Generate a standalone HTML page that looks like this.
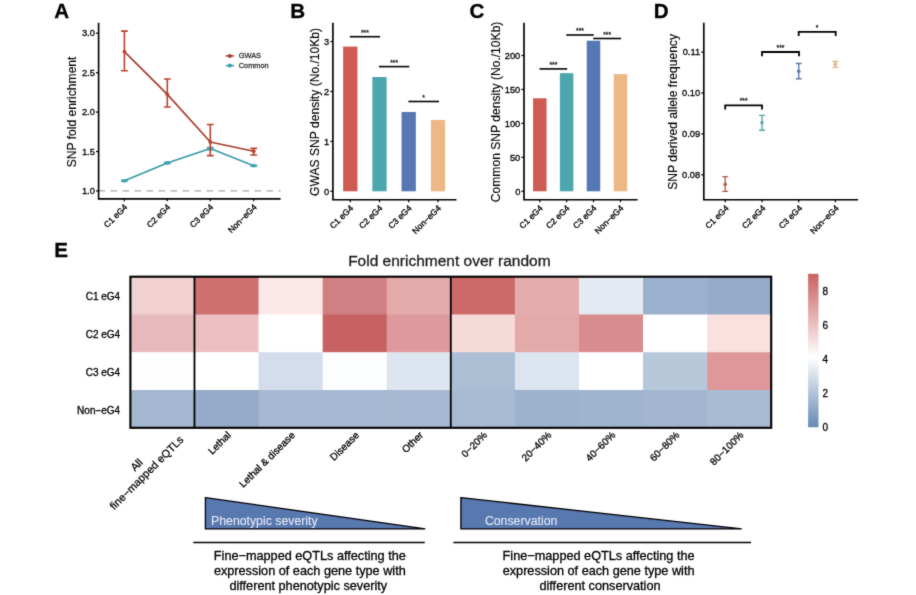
<!DOCTYPE html>
<html lang="en">
<head>
<meta charset="utf-8">
<title>SNP enrichment figure</title>
<style>
html,body{margin:0;padding:0;background:#fff;}
body{width:916px;height:595px;overflow:hidden;}
svg{display:block;font-family:'Liberation Sans', sans-serif;}
</style>
</head>
<body>
<svg width="916" height="595" viewBox="0 0 916 595">
<defs><filter id="soft" filterUnits="userSpaceOnUse" x="0" y="0" width="916" height="595" color-interpolation-filters="sRGB"><feConvolveMatrix order="3" kernelMatrix="1 3 1 3 24 3 1 3 1" edgeMode="duplicate" preserveAlpha="true"/></filter></defs>
<g id="fig" filter="url(#soft)">
<rect x="-5" y="-5" width="926" height="605" fill="#ffffff"/>
<text x="54.20" y="18.00" font-size="20.6" text-anchor="start" font-weight="bold" fill="#000" stroke="#000" stroke-width="0.3">A</text>
<text x="290.30" y="18.00" font-size="20.6" text-anchor="start" font-weight="bold" fill="#000" stroke="#000" stroke-width="0.3">B</text>
<text x="469.60" y="18.00" font-size="20.6" text-anchor="start" font-weight="bold" fill="#000" stroke="#000" stroke-width="0.3">C</text>
<text x="653.80" y="18.00" font-size="20.6" text-anchor="start" font-weight="bold" fill="#000" stroke="#000" stroke-width="0.3">D</text>
<text x="54.20" y="257.00" font-size="20.6" text-anchor="start" font-weight="bold" fill="#000" stroke="#000" stroke-width="0.3">E</text>
<line x1="98.60" y1="190.90" x2="280.60" y2="190.90" stroke="#8f8f8f" stroke-width="1.0" stroke-dasharray="6.4 5.6"/>
<path d="M98.60 22.70 V198.80 H280.60" fill="none" stroke="#000" stroke-width="1.65" stroke-linejoin="miter"/>
<line x1="96.07" y1="190.90" x2="98.60" y2="190.90" stroke="#000" stroke-width="1.25"/>
<text x="94.90" y="194.11" font-size="9.3" text-anchor="end" font-weight="normal" fill="#000" stroke="#000" stroke-width="0.3">1.0</text>
<line x1="96.07" y1="151.48" x2="98.60" y2="151.48" stroke="#000" stroke-width="1.25"/>
<text x="94.90" y="154.68" font-size="9.3" text-anchor="end" font-weight="normal" fill="#000" stroke="#000" stroke-width="0.3">1.5</text>
<line x1="96.07" y1="112.05" x2="98.60" y2="112.05" stroke="#000" stroke-width="1.25"/>
<text x="94.90" y="115.26" font-size="9.3" text-anchor="end" font-weight="normal" fill="#000" stroke="#000" stroke-width="0.3">2.0</text>
<line x1="96.07" y1="72.63" x2="98.60" y2="72.63" stroke="#000" stroke-width="1.25"/>
<text x="94.90" y="75.83" font-size="9.3" text-anchor="end" font-weight="normal" fill="#000" stroke="#000" stroke-width="0.3">2.5</text>
<line x1="96.07" y1="33.20" x2="98.60" y2="33.20" stroke="#000" stroke-width="1.25"/>
<text x="94.90" y="36.41" font-size="9.3" text-anchor="end" font-weight="normal" fill="#000" stroke="#000" stroke-width="0.3">3.0</text>
<line x1="124.40" y1="198.80" x2="124.40" y2="201.32" stroke="#000" stroke-width="1.25"/>
<line x1="167.30" y1="198.80" x2="167.30" y2="201.32" stroke="#000" stroke-width="1.25"/>
<line x1="210.30" y1="198.80" x2="210.30" y2="201.32" stroke="#000" stroke-width="1.25"/>
<line x1="253.70" y1="198.80" x2="253.70" y2="201.32" stroke="#000" stroke-width="1.25"/>
<text x="0" y="0" transform="translate(127.90 207.80) rotate(-45)" font-size="8.45" text-anchor="end" font-weight="normal" fill="#000" stroke="#000" stroke-width="0.3">C1 eG4</text>
<text x="0" y="0" transform="translate(170.80 207.80) rotate(-45)" font-size="8.45" text-anchor="end" font-weight="normal" fill="#000" stroke="#000" stroke-width="0.3">C2 eG4</text>
<text x="0" y="0" transform="translate(213.80 207.80) rotate(-45)" font-size="8.45" text-anchor="end" font-weight="normal" fill="#000" stroke="#000" stroke-width="0.3">C3 eG4</text>
<text x="0" y="0" transform="translate(257.20 207.80) rotate(-45)" font-size="8.45" text-anchor="end" font-weight="normal" fill="#000" stroke="#000" stroke-width="0.3">Non−eG4</text>
<text x="0" y="0" transform="translate(76.40 111.90) rotate(-90)" font-size="12.1" text-anchor="middle" font-weight="normal" fill="#000" stroke="#000" stroke-width="0.15">SNP fold enrichment</text>
<path d="M124.40 180.80 L167.30 162.90 L210.30 148.60 L253.70 165.70" fill="none" stroke="#3798aa" stroke-width="1.6" stroke-linejoin="round"/>
<path d="M121.00 180.30 H127.80 M124.40 180.30 V181.30 M121.00 181.30 H127.80" fill="none" stroke="#3fa3b5" stroke-width="1.6"/>
<circle cx="124.40" cy="180.80" r="1.9" fill="#3fa3b5"/>
<path d="M163.90 162.40 H170.70 M167.30 162.40 V163.40 M163.90 163.40 H170.70" fill="none" stroke="#3fa3b5" stroke-width="1.6"/>
<circle cx="167.30" cy="162.90" r="1.9" fill="#3fa3b5"/>
<path d="M206.90 147.60 H213.70 M210.30 147.60 V149.60 M206.90 149.60 H213.70" fill="none" stroke="#3fa3b5" stroke-width="1.6"/>
<circle cx="210.30" cy="148.60" r="1.9" fill="#3fa3b5"/>
<path d="M250.30 165.20 H257.10 M253.70 165.20 V166.20 M250.30 166.20 H257.10" fill="none" stroke="#3fa3b5" stroke-width="1.6"/>
<circle cx="253.70" cy="165.70" r="1.9" fill="#3fa3b5"/>
<path d="M124.40 51.60 L167.30 94.40 L210.30 142.00 L253.70 151.20" fill="none" stroke="#a63a2a" stroke-width="1.6" stroke-linejoin="round"/>
<path d="M121.00 31.10 H127.80 M124.40 31.10 V70.80 M121.00 70.80 H127.80" fill="none" stroke="#b8432c" stroke-width="1.6"/>
<circle cx="124.40" cy="51.60" r="1.9" fill="#b8432c"/>
<path d="M163.90 79.00 H170.70 M167.30 79.00 V107.00 M163.90 107.00 H170.70" fill="none" stroke="#b8432c" stroke-width="1.6"/>
<circle cx="167.30" cy="94.40" r="1.9" fill="#b8432c"/>
<path d="M206.90 124.50 H213.70 M210.30 124.50 V155.60 M206.90 155.60 H213.70" fill="none" stroke="#b8432c" stroke-width="1.6"/>
<circle cx="210.30" cy="142.00" r="1.9" fill="#b8432c"/>
<path d="M250.30 148.40 H257.10 M253.70 148.40 V155.00 M250.30 155.00 H257.10" fill="none" stroke="#b8432c" stroke-width="1.6"/>
<circle cx="253.70" cy="151.20" r="1.9" fill="#b8432c"/>
<line x1="225.80" y1="55.90" x2="234.00" y2="55.90" stroke="#a63a2a" stroke-width="1.5"/>
<circle cx="229.9" cy="55.9" r="2.0" fill="#a63a2a"/>
<text x="238.70" y="58.20" font-size="7.4" text-anchor="start" font-weight="normal" fill="#333" stroke="#333" stroke-width="0.3">GWAS</text>
<line x1="225.80" y1="65.60" x2="234.00" y2="65.60" stroke="#3798aa" stroke-width="1.5"/>
<circle cx="229.9" cy="65.6" r="2.0" fill="#3798aa"/>
<text x="238.70" y="67.90" font-size="7.4" text-anchor="start" font-weight="normal" fill="#333" stroke="#333" stroke-width="0.3">Common</text>
<rect x="343.15" y="46.59" width="14.30" height="144.71" fill="#cd5b52"/>
<rect x="372.35" y="77.03" width="14.30" height="114.27" fill="#4ba6ae"/>
<rect x="401.55" y="111.96" width="14.30" height="79.34" fill="#5578b4"/>
<rect x="430.85" y="119.94" width="14.30" height="71.36" fill="#ecb886"/>
<path d="M332.90 22.70 V199.70 H456.50" fill="none" stroke="#000" stroke-width="1.65" stroke-linejoin="miter"/>
<line x1="330.38" y1="191.30" x2="332.90" y2="191.30" stroke="#000" stroke-width="1.25"/>
<text x="329.20" y="194.51" font-size="9.3" text-anchor="end" font-weight="normal" fill="#000" stroke="#000" stroke-width="0.3">0</text>
<line x1="330.38" y1="141.40" x2="332.90" y2="141.40" stroke="#000" stroke-width="1.25"/>
<text x="329.20" y="144.61" font-size="9.3" text-anchor="end" font-weight="normal" fill="#000" stroke="#000" stroke-width="0.3">1</text>
<line x1="330.38" y1="91.50" x2="332.90" y2="91.50" stroke="#000" stroke-width="1.25"/>
<text x="329.20" y="94.71" font-size="9.3" text-anchor="end" font-weight="normal" fill="#000" stroke="#000" stroke-width="0.3">2</text>
<line x1="330.38" y1="41.60" x2="332.90" y2="41.60" stroke="#000" stroke-width="1.25"/>
<text x="329.20" y="44.81" font-size="9.3" text-anchor="end" font-weight="normal" fill="#000" stroke="#000" stroke-width="0.3">3</text>
<line x1="350.30" y1="199.70" x2="350.30" y2="202.22" stroke="#000" stroke-width="1.25"/>
<line x1="379.50" y1="199.70" x2="379.50" y2="202.22" stroke="#000" stroke-width="1.25"/>
<line x1="408.70" y1="199.70" x2="408.70" y2="202.22" stroke="#000" stroke-width="1.25"/>
<line x1="438.00" y1="199.70" x2="438.00" y2="202.22" stroke="#000" stroke-width="1.25"/>
<text x="0" y="0" transform="translate(353.80 208.70) rotate(-45)" font-size="8.45" text-anchor="end" font-weight="normal" fill="#000" stroke="#000" stroke-width="0.3">C1 eG4</text>
<text x="0" y="0" transform="translate(383.00 208.70) rotate(-45)" font-size="8.45" text-anchor="end" font-weight="normal" fill="#000" stroke="#000" stroke-width="0.3">C2 eG4</text>
<text x="0" y="0" transform="translate(412.20 208.70) rotate(-45)" font-size="8.45" text-anchor="end" font-weight="normal" fill="#000" stroke="#000" stroke-width="0.3">C3 eG4</text>
<text x="0" y="0" transform="translate(441.50 208.70) rotate(-45)" font-size="8.45" text-anchor="end" font-weight="normal" fill="#000" stroke="#000" stroke-width="0.3">Non−eG4</text>
<text x="0" y="0" transform="translate(318.80 111.90) rotate(-90)" font-size="12.1" text-anchor="middle" font-weight="normal" fill="#000" stroke="#000" stroke-width="0.15">GWAS SNP density (No./10Kb)</text>
<line x1="349.80" y1="36.70" x2="380.10" y2="36.70" stroke="#000" stroke-width="1.6"/>
<text x="364.95" y="34.90" font-size="6.8" text-anchor="middle" font-weight="normal" fill="#222" stroke="#222" stroke-width="0.3">***</text>
<line x1="379.00" y1="66.60" x2="409.30" y2="66.60" stroke="#000" stroke-width="1.6"/>
<text x="394.15" y="64.80" font-size="6.8" text-anchor="middle" font-weight="normal" fill="#222" stroke="#222" stroke-width="0.3">***</text>
<line x1="408.40" y1="101.50" x2="439.00" y2="101.50" stroke="#000" stroke-width="1.6"/>
<text x="423.70" y="99.70" font-size="6.8" text-anchor="middle" font-weight="normal" fill="#222" stroke="#222" stroke-width="0.3">*</text>
<rect x="533.05" y="98.28" width="13.50" height="93.02" fill="#cd5b52"/>
<rect x="559.85" y="73.15" width="13.50" height="118.15" fill="#4ba6ae"/>
<rect x="586.75" y="40.70" width="13.50" height="150.60" fill="#5578b4"/>
<rect x="613.75" y="74.10" width="13.50" height="117.20" fill="#ecb886"/>
<path d="M524.00 22.70 V199.70 H637.60" fill="none" stroke="#000" stroke-width="1.65" stroke-linejoin="miter"/>
<line x1="521.47" y1="191.30" x2="524.00" y2="191.30" stroke="#000" stroke-width="1.25"/>
<text x="520.30" y="194.51" font-size="9.3" text-anchor="end" font-weight="normal" fill="#000" stroke="#000" stroke-width="0.3">0</text>
<line x1="521.47" y1="157.35" x2="524.00" y2="157.35" stroke="#000" stroke-width="1.25"/>
<text x="520.30" y="160.56" font-size="9.3" text-anchor="end" font-weight="normal" fill="#000" stroke="#000" stroke-width="0.3">50</text>
<line x1="521.47" y1="123.40" x2="524.00" y2="123.40" stroke="#000" stroke-width="1.25"/>
<text x="520.30" y="126.61" font-size="9.3" text-anchor="end" font-weight="normal" fill="#000" stroke="#000" stroke-width="0.3">100</text>
<line x1="521.47" y1="89.45" x2="524.00" y2="89.45" stroke="#000" stroke-width="1.25"/>
<text x="520.30" y="92.66" font-size="9.3" text-anchor="end" font-weight="normal" fill="#000" stroke="#000" stroke-width="0.3">150</text>
<line x1="521.47" y1="55.50" x2="524.00" y2="55.50" stroke="#000" stroke-width="1.25"/>
<text x="520.30" y="58.71" font-size="9.3" text-anchor="end" font-weight="normal" fill="#000" stroke="#000" stroke-width="0.3">200</text>
<line x1="539.80" y1="199.70" x2="539.80" y2="202.22" stroke="#000" stroke-width="1.25"/>
<line x1="566.60" y1="199.70" x2="566.60" y2="202.22" stroke="#000" stroke-width="1.25"/>
<line x1="593.50" y1="199.70" x2="593.50" y2="202.22" stroke="#000" stroke-width="1.25"/>
<line x1="620.50" y1="199.70" x2="620.50" y2="202.22" stroke="#000" stroke-width="1.25"/>
<text x="0" y="0" transform="translate(543.30 208.70) rotate(-45)" font-size="8.45" text-anchor="end" font-weight="normal" fill="#000" stroke="#000" stroke-width="0.3">C1 eG4</text>
<text x="0" y="0" transform="translate(570.10 208.70) rotate(-45)" font-size="8.45" text-anchor="end" font-weight="normal" fill="#000" stroke="#000" stroke-width="0.3">C2 eG4</text>
<text x="0" y="0" transform="translate(597.00 208.70) rotate(-45)" font-size="8.45" text-anchor="end" font-weight="normal" fill="#000" stroke="#000" stroke-width="0.3">C3 eG4</text>
<text x="0" y="0" transform="translate(624.00 208.70) rotate(-45)" font-size="8.45" text-anchor="end" font-weight="normal" fill="#000" stroke="#000" stroke-width="0.3">Non−eG4</text>
<text x="0" y="0" transform="translate(499.80 111.90) rotate(-90)" font-size="12.1" text-anchor="middle" font-weight="normal" fill="#000" stroke="#000" stroke-width="0.15">Common SNP density (No./10Kb)</text>
<line x1="539.50" y1="68.90" x2="567.20" y2="68.90" stroke="#000" stroke-width="1.6"/>
<text x="553.35" y="67.10" font-size="6.8" text-anchor="middle" font-weight="normal" fill="#222" stroke="#222" stroke-width="0.3">***</text>
<line x1="566.30" y1="35.00" x2="593.70" y2="35.00" stroke="#000" stroke-width="1.6"/>
<text x="580.00" y="33.20" font-size="6.8" text-anchor="middle" font-weight="normal" fill="#222" stroke="#222" stroke-width="0.3">***</text>
<line x1="593.20" y1="38.50" x2="621.00" y2="38.50" stroke="#000" stroke-width="1.6"/>
<text x="607.10" y="36.70" font-size="6.8" text-anchor="middle" font-weight="normal" fill="#222" stroke="#222" stroke-width="0.3">***</text>
<path d="M703.80 22.70 V199.70 H858.10" fill="none" stroke="#000" stroke-width="1.65" stroke-linejoin="miter"/>
<line x1="701.27" y1="174.80" x2="703.80" y2="174.80" stroke="#000" stroke-width="1.25"/>
<text x="700.10" y="178.01" font-size="9.3" text-anchor="end" font-weight="normal" fill="#000" stroke="#000" stroke-width="0.3">0.08</text>
<line x1="701.27" y1="133.90" x2="703.80" y2="133.90" stroke="#000" stroke-width="1.25"/>
<text x="700.10" y="137.11" font-size="9.3" text-anchor="end" font-weight="normal" fill="#000" stroke="#000" stroke-width="0.3">0.09</text>
<line x1="701.27" y1="93.00" x2="703.80" y2="93.00" stroke="#000" stroke-width="1.25"/>
<text x="700.10" y="96.21" font-size="9.3" text-anchor="end" font-weight="normal" fill="#000" stroke="#000" stroke-width="0.3">0.10</text>
<line x1="701.27" y1="52.10" x2="703.80" y2="52.10" stroke="#000" stroke-width="1.25"/>
<text x="700.10" y="55.31" font-size="9.3" text-anchor="end" font-weight="normal" fill="#000" stroke="#000" stroke-width="0.3">0.11</text>
<line x1="725.20" y1="199.70" x2="725.20" y2="202.22" stroke="#000" stroke-width="1.25"/>
<line x1="762.00" y1="199.70" x2="762.00" y2="202.22" stroke="#000" stroke-width="1.25"/>
<line x1="798.70" y1="199.70" x2="798.70" y2="202.22" stroke="#000" stroke-width="1.25"/>
<line x1="835.40" y1="199.70" x2="835.40" y2="202.22" stroke="#000" stroke-width="1.25"/>
<text x="0" y="0" transform="translate(729.20 208.70) rotate(-45)" font-size="8.45" text-anchor="end" font-weight="normal" fill="#000" stroke="#000" stroke-width="0.3">C1 eG4</text>
<text x="0" y="0" transform="translate(766.00 208.70) rotate(-45)" font-size="8.45" text-anchor="end" font-weight="normal" fill="#000" stroke="#000" stroke-width="0.3">C2 eG4</text>
<text x="0" y="0" transform="translate(802.70 208.70) rotate(-45)" font-size="8.45" text-anchor="end" font-weight="normal" fill="#000" stroke="#000" stroke-width="0.3">C3 eG4</text>
<text x="0" y="0" transform="translate(839.40 208.70) rotate(-45)" font-size="8.45" text-anchor="end" font-weight="normal" fill="#000" stroke="#000" stroke-width="0.3">Non−eG4</text>
<text x="0" y="0" transform="translate(677.00 111.90) rotate(-90)" font-size="12.1" text-anchor="middle" font-weight="normal" fill="#000" stroke="#000" stroke-width="0.15">SNP derived allele frequency</text>
<path d="M722.30 176.60 H728.10 M725.20 176.60 V191.40 M722.30 191.40 H728.10" fill="none" stroke="#b9584e" stroke-width="1.35"/>
<circle cx="725.20" cy="184.40" r="1.8" fill="#b9584e"/>
<path d="M759.10 115.40 H764.90 M762.00 115.40 V130.20 M759.10 130.20 H764.90" fill="none" stroke="#58a2a8" stroke-width="1.35"/>
<circle cx="762.00" cy="122.70" r="1.8" fill="#58a2a8"/>
<path d="M795.80 63.50 H801.60 M798.70 63.50 V78.70 M795.80 78.70 H801.60" fill="none" stroke="#587ba8" stroke-width="1.35"/>
<circle cx="798.70" cy="71.30" r="1.8" fill="#587ba8"/>
<path d="M832.50 61.50 H838.30 M835.40 61.50 V67.30 M832.50 67.30 H838.30" fill="none" stroke="#e4b589" stroke-width="1.35"/>
<circle cx="835.40" cy="64.30" r="1.8" fill="#e4b589"/>
<path d="M725.20 109.60 V105.40 H762.00 V109.60" fill="none" stroke="#000" stroke-width="1.8"/>
<text x="743.60" y="103.00" font-size="6.8" text-anchor="middle" font-weight="normal" fill="#222" stroke="#222" stroke-width="0.3">***</text>
<path d="M762.00 56.20 V52.00 H799.00 V56.20" fill="none" stroke="#000" stroke-width="1.8"/>
<text x="780.50" y="49.60" font-size="6.8" text-anchor="middle" font-weight="normal" fill="#222" stroke="#222" stroke-width="0.3">***</text>
<path d="M798.70 36.10 V31.90 H835.70 V36.10" fill="none" stroke="#000" stroke-width="1.8"/>
<text x="817.20" y="29.50" font-size="6.8" text-anchor="middle" font-weight="normal" fill="#222" stroke="#222" stroke-width="0.3">*</text>
<rect x="130.40" y="276.70" width="64.58" height="38.28" fill="rgb(240,208,208)"/>
<rect x="194.48" y="276.70" width="64.58" height="38.28" fill="rgb(205,112,112)"/>
<rect x="258.56" y="276.70" width="64.58" height="38.28" fill="rgb(252,232,230)"/>
<rect x="322.64" y="276.70" width="64.58" height="38.28" fill="rgb(208,128,130)"/>
<rect x="386.72" y="276.70" width="64.58" height="38.28" fill="rgb(228,170,170)"/>
<rect x="450.80" y="276.70" width="64.58" height="38.28" fill="rgb(204,105,105)"/>
<rect x="514.88" y="276.70" width="64.58" height="38.28" fill="rgb(228,172,172)"/>
<rect x="578.96" y="276.70" width="64.58" height="38.28" fill="rgb(228,233,242)"/>
<rect x="643.04" y="276.70" width="64.58" height="38.28" fill="rgb(155,176,204)"/>
<rect x="707.12" y="276.70" width="64.08" height="38.28" fill="rgb(149,171,200)"/>
<rect x="130.40" y="314.48" width="64.58" height="38.28" fill="rgb(230,186,189)"/>
<rect x="194.48" y="314.48" width="64.58" height="38.28" fill="rgb(236,192,194)"/>
<rect x="258.56" y="314.48" width="64.58" height="38.28" fill="rgb(255,255,255)"/>
<rect x="322.64" y="314.48" width="64.58" height="38.28" fill="rgb(200,98,98)"/>
<rect x="386.72" y="314.48" width="64.58" height="38.28" fill="rgb(221,153,155)"/>
<rect x="450.80" y="314.48" width="64.58" height="38.28" fill="rgb(246,218,218)"/>
<rect x="514.88" y="314.48" width="64.58" height="38.28" fill="rgb(228,170,170)"/>
<rect x="578.96" y="314.48" width="64.58" height="38.28" fill="rgb(217,140,142)"/>
<rect x="643.04" y="314.48" width="64.58" height="38.28" fill="rgb(255,255,255)"/>
<rect x="707.12" y="314.48" width="64.08" height="38.28" fill="rgb(250,225,224)"/>
<rect x="130.40" y="352.25" width="64.58" height="38.28" fill="rgb(254,254,255)"/>
<rect x="194.48" y="352.25" width="64.58" height="38.28" fill="rgb(255,255,255)"/>
<rect x="258.56" y="352.25" width="64.58" height="38.28" fill="rgb(212,221,235)"/>
<rect x="322.64" y="352.25" width="64.58" height="38.28" fill="rgb(252,253,255)"/>
<rect x="386.72" y="352.25" width="64.58" height="38.28" fill="rgb(221,229,240)"/>
<rect x="450.80" y="352.25" width="64.58" height="38.28" fill="rgb(171,190,211)"/>
<rect x="514.88" y="352.25" width="64.58" height="38.28" fill="rgb(219,228,239)"/>
<rect x="578.96" y="352.25" width="64.58" height="38.28" fill="rgb(255,255,255)"/>
<rect x="643.04" y="352.25" width="64.58" height="38.28" fill="rgb(184,200,219)"/>
<rect x="707.12" y="352.25" width="64.08" height="38.28" fill="rgb(222,152,153)"/>
<rect x="130.40" y="390.02" width="64.58" height="37.78" fill="rgb(164,183,209)"/>
<rect x="194.48" y="390.02" width="64.58" height="37.78" fill="rgb(149,171,201)"/>
<rect x="258.56" y="390.02" width="64.58" height="37.78" fill="rgb(167,185,210)"/>
<rect x="322.64" y="390.02" width="64.58" height="37.78" fill="rgb(167,185,210)"/>
<rect x="386.72" y="390.02" width="64.58" height="37.78" fill="rgb(167,185,210)"/>
<rect x="450.80" y="390.02" width="64.58" height="37.78" fill="rgb(169,187,211)"/>
<rect x="514.88" y="390.02" width="64.58" height="37.78" fill="rgb(157,178,205)"/>
<rect x="578.96" y="390.02" width="64.58" height="37.78" fill="rgb(159,180,206)"/>
<rect x="643.04" y="390.02" width="64.58" height="37.78" fill="rgb(162,182,208)"/>
<rect x="707.12" y="390.02" width="64.08" height="37.78" fill="rgb(169,187,211)"/>
<rect x="130.40" y="276.70" width="640.80" height="151.10" fill="none" stroke="#000" stroke-width="2.1"/>
<line x1="194.48" y1="276.70" x2="194.48" y2="427.80" stroke="#000" stroke-width="1.8"/>
<line x1="450.80" y1="276.70" x2="450.80" y2="427.80" stroke="#000" stroke-width="1.8"/>
<text x="120.20" y="300.00" font-size="10" text-anchor="end" font-weight="normal" fill="#000" stroke="#000" stroke-width="0.3">C1 eG4</text>
<text x="120.20" y="338.00" font-size="10" text-anchor="end" font-weight="normal" fill="#000" stroke="#000" stroke-width="0.3">C2 eG4</text>
<text x="120.20" y="376.00" font-size="10" text-anchor="end" font-weight="normal" fill="#000" stroke="#000" stroke-width="0.3">C3 eG4</text>
<text x="120.20" y="414.00" font-size="10" text-anchor="end" font-weight="normal" fill="#000" stroke="#000" stroke-width="0.3">Non−eG4</text>
<text x="449.40" y="265.80" font-size="15.5" text-anchor="middle" font-weight="normal" fill="#1a1a1a" stroke="#1a1a1a" stroke-width="0.3">Fold enrichment over random</text>
<text x="0" y="0" transform="translate(231.52 435.80) rotate(-45)" font-size="10" text-anchor="end" font-weight="normal" fill="#000" stroke="#000" stroke-width="0.3">Lethal</text>
<text x="0" y="0" transform="translate(295.60 435.80) rotate(-45)" font-size="10" text-anchor="end" font-weight="normal" fill="#000" stroke="#000" stroke-width="0.3">Lethal &amp; disease</text>
<text x="0" y="0" transform="translate(359.68 435.80) rotate(-45)" font-size="10" text-anchor="end" font-weight="normal" fill="#000" stroke="#000" stroke-width="0.3">Disease</text>
<text x="0" y="0" transform="translate(423.76 435.80) rotate(-45)" font-size="10" text-anchor="end" font-weight="normal" fill="#000" stroke="#000" stroke-width="0.3">Other</text>
<text x="0" y="0" transform="translate(487.84 435.80) rotate(-45)" font-size="10" text-anchor="end" font-weight="normal" fill="#000" stroke="#000" stroke-width="0.3">0−20%</text>
<text x="0" y="0" transform="translate(551.92 435.80) rotate(-45)" font-size="10" text-anchor="end" font-weight="normal" fill="#000" stroke="#000" stroke-width="0.3">20−40%</text>
<text x="0" y="0" transform="translate(616.00 435.80) rotate(-45)" font-size="10" text-anchor="end" font-weight="normal" fill="#000" stroke="#000" stroke-width="0.3">40−60%</text>
<text x="0" y="0" transform="translate(680.08 435.80) rotate(-45)" font-size="10" text-anchor="end" font-weight="normal" fill="#000" stroke="#000" stroke-width="0.3">60−80%</text>
<text x="0" y="0" transform="translate(744.16 435.80) rotate(-45)" font-size="10" text-anchor="end" font-weight="normal" fill="#000" stroke="#000" stroke-width="0.3">80−100%</text>
<g transform="translate(146.6 472.8) rotate(-45)" font-size="10.9" text-anchor="middle" fill="#000" stroke="#000" stroke-width="0.25"><text x="-1.5" y="-9.0">All</text><text x="0" y="3.7">fine−mapped eQTLs</text></g>
<defs><linearGradient id="cb" x1="0" y1="1" x2="0" y2="0"><stop offset="0" stop-color="#668ab4"/><stop offset="0.455" stop-color="#ffffff"/><stop offset="1" stop-color="#c9615f"/></linearGradient></defs>
<rect x="808.10" y="273.80" width="10.40" height="153.40" fill="url(#cb)"/>
<text x="822.40" y="430.50" font-size="10" text-anchor="start" font-weight="normal" fill="#000" stroke="#000" stroke-width="0.3">0</text>
<text x="822.40" y="396.62" font-size="10" text-anchor="start" font-weight="normal" fill="#000" stroke="#000" stroke-width="0.3">2</text>
<text x="822.40" y="362.74" font-size="10" text-anchor="start" font-weight="normal" fill="#000" stroke="#000" stroke-width="0.3">4</text>
<text x="822.40" y="328.86" font-size="10" text-anchor="start" font-weight="normal" fill="#000" stroke="#000" stroke-width="0.3">6</text>
<text x="822.40" y="294.98" font-size="10" text-anchor="start" font-weight="normal" fill="#000" stroke="#000" stroke-width="0.3">8</text>
<path d="M205.4 497.6 L425.3 528.9 L205.4 528.9 Z" fill="#5878b0" stroke="#000" stroke-width="1.3" stroke-linejoin="miter"/>
<path d="M460.9 497.6 L741.8 528.9 L460.9 528.9 Z" fill="#5878b0" stroke="#000" stroke-width="1.3" stroke-linejoin="miter"/>
<text x="211.00" y="525.00" font-size="12.3" text-anchor="start" font-weight="normal" fill="#e3eaf6" stroke="#e3eaf6" stroke-width="0.1">Phenotypic severity</text>
<text x="484.90" y="525.00" font-size="12.3" text-anchor="start" font-weight="normal" fill="#e3eaf6" stroke="#e3eaf6" stroke-width="0.1">Conservation</text>
<line x1="193.30" y1="542.50" x2="424.80" y2="542.50" stroke="#000" stroke-width="1.6"/>
<line x1="453.30" y1="542.50" x2="751.00" y2="542.50" stroke="#000" stroke-width="1.6"/>
<text x="309.80" y="560.00" font-size="12.7" text-anchor="middle" font-weight="normal" fill="#000" stroke="#000" stroke-width="0.3">Fine−mapped eQTLs affecting the</text>
<text x="309.80" y="575.00" font-size="12.7" text-anchor="middle" font-weight="normal" fill="#000" stroke="#000" stroke-width="0.3">expression of each gene type with</text>
<text x="308.30" y="590.00" font-size="12.7" text-anchor="middle" font-weight="normal" fill="#000" stroke="#000" stroke-width="0.3">different phenotypic severity</text>
<text x="598.60" y="560.00" font-size="12.7" text-anchor="middle" font-weight="normal" fill="#000" stroke="#000" stroke-width="0.3">Fine−mapped eQTLs affecting the</text>
<text x="598.60" y="575.00" font-size="12.7" text-anchor="middle" font-weight="normal" fill="#000" stroke="#000" stroke-width="0.3">expression of each gene type with</text>
<text x="600.00" y="590.00" font-size="12.7" text-anchor="middle" font-weight="normal" fill="#000" stroke="#000" stroke-width="0.3">different conservation</text>
</g>
</svg>
</body>
</html>
